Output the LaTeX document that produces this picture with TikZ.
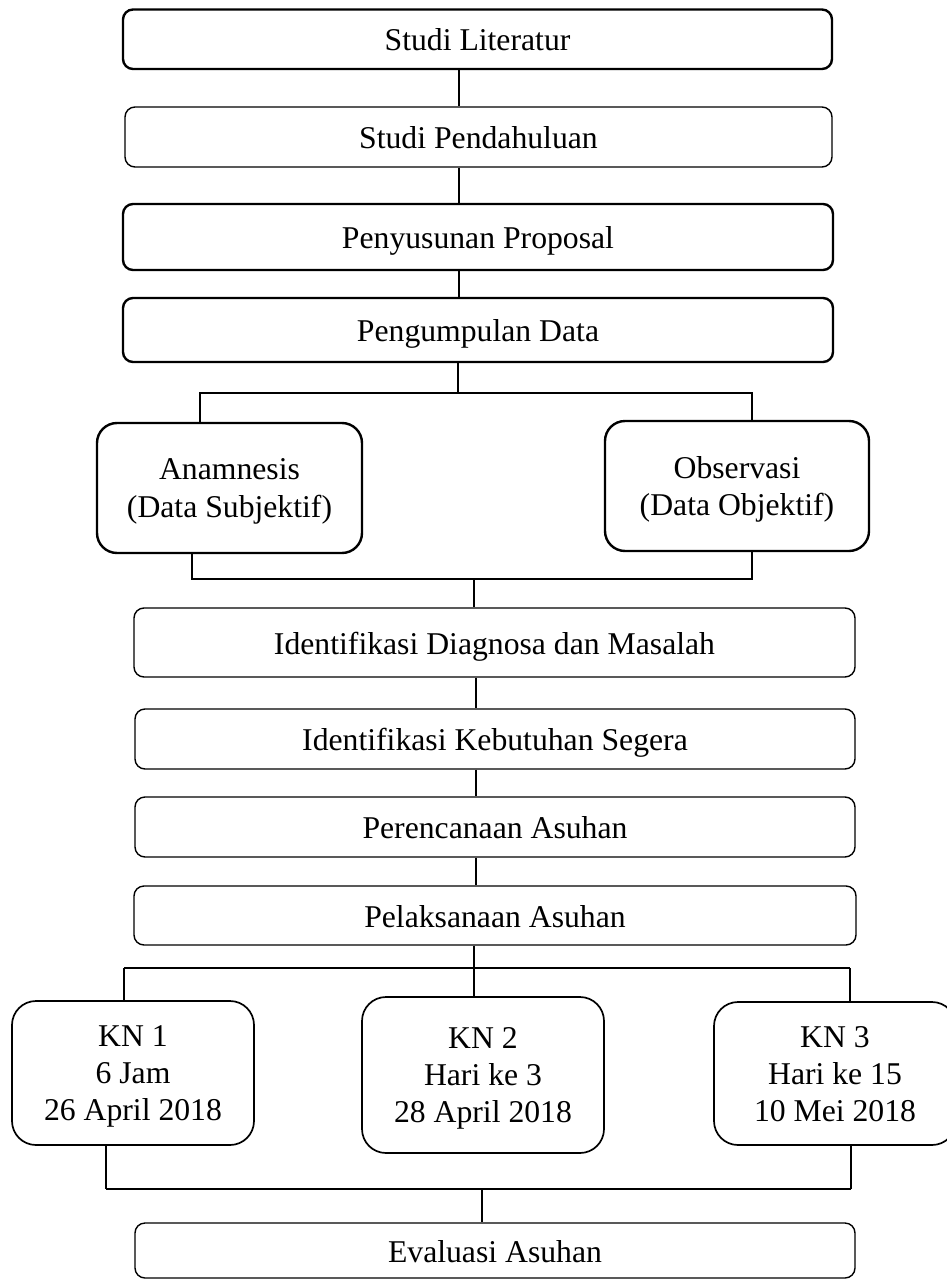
\documentclass[tikz,border=0pt]{standalone}
\usepackage{fontspec}
\setmainfont{Liberation Serif}
\begin{document}
\begin{tikzpicture}[x=1pt,y=-1pt,
  box/.style={draw, rounded corners=10pt, line width=1.4pt, inner sep=0pt,
    text height=23pt, text depth=0pt, font=\fontsize{31.7}{37}\selectfont},
  thickbox/.style={box, line width=2.4pt},
  bigbox/.style={draw, rounded corners=20pt, line width=2.4pt, inner sep=0pt,
    align=center, text depth=0pt, font=\fontsize{31.7}{37}\selectfont},
  knbox/.style={bigbox, line width=1.7pt, rounded corners=24pt},
  conn/.style={line width=1.2pt},
  heavyconn/.style={line width=1.9pt}]
\useasboundingbox[fill=white] (0,0) rectangle (947,1279);

\node[thickbox, minimum width=709pt, minimum height=59.5pt] (lit) at (477.5,39.25) {Studi Literatur};
\node[box, minimum width=707pt, minimum height=60pt] (pend) at (478.5,137) {Studi Pendahuluan};
\node[thickbox, minimum width=710pt, minimum height=66pt] (peny) at (478,237) {Penyusunan Proposal};
\node[thickbox, minimum width=710pt, minimum height=64pt] (peng) at (478,330) {Pengumpulan Data};

\node[bigbox, minimum width=265pt, minimum height=130pt] (anam) at (229.5,488) {Anamnesis\\(Data Subjektif)};
\node[bigbox, minimum width=264pt, minimum height=130pt] (obs) at (737,486) {Observasi\\(Data Objektif)};

\node[box, minimum width=721pt, minimum height=69pt] (diag) at (494.5,642.5) {Identifikasi Diagnosa dan Masalah};
\node[box, minimum width=720pt, minimum height=60pt] (keb) at (495,739) {Identifikasi Kebutuhan Segera};
\node[box, minimum width=720pt, minimum height=60pt] (ren) at (495,827) {Perencanaan Asuhan};
\node[box, minimum width=722pt, minimum height=59pt] (pel) at (495,915.5) {Pelaksanaan Asuhan};

\node[knbox, minimum width=242pt, minimum height=144pt] (kn1) at (133,1073) {KN 1\\6 Jam\\26 April 2018};
\node[knbox, minimum width=242pt, minimum height=156pt] (kn2) at (483,1075) {KN 2\\Hari ke 3\\28 April 2018};
\node[knbox, minimum width=242pt, minimum height=143pt] (kn3) at (835,1073.5) {KN 3\\Hari ke 15\\10 Mei 2018};

\node[box, minimum width=720pt, minimum height=55pt] (eval) at (495,1250.5) {Evaluasi Asuhan};

% connectors
\coordinate (a) at (459,0);
\coordinate (b) at (476,0);
\draw[conn] (lit.south -| a) -- (pend.north -| a);
\draw[conn] (pend.south -| a) -- (peny.north -| a);
\draw[conn] (peny.south -| a) -- (peng.north -| a);

\coordinate (j1) at (458,393);
\coordinate (j1l) at (200,393);
\coordinate (j1r) at (752,393);
\draw[conn] (peng.south -| j1) -- (j1);
\draw[conn] (anam.north -| j1l) -- (j1l) -- (j1r) -- (obs.north -| j1r);

\coordinate (j2) at (474,579);
\coordinate (j2l) at (192,579);
\coordinate (j2r) at (752,579);
\draw[conn] (anam.south -| j2l) -- (j2l) -- (j2r) -- (obs.south -| j2r);
\draw[conn] (j2) -- (diag.north -| j2);

\draw[conn] (diag.south -| b) -- (keb.north -| b);
\draw[conn] (keb.south -| b) -- (ren.north -| b);
\draw[conn] (ren.south -| b) -- (pel.north -| b);

\coordinate (j3) at (474,968);
\coordinate (j3l) at (124,968);
\coordinate (j3r) at (850,968);
\draw[conn] (pel.south -| j3) -- (kn2.north -| j3);
\draw[heavyconn] (j3l) -- (j3r);
\draw[conn] (j3l) -- (kn1.north -| j3l);
\draw[conn] (j3r) -- (kn3.north -| j3r);

\coordinate (j4) at (482,1189);
\coordinate (j4l) at (106,1189);
\coordinate (j4r) at (851,1189);
\draw[conn] (kn1.south -| j4l) -- (j4l);
\draw[conn] (kn3.south -| j4r) -- (j4r);
\draw[heavyconn] (j4l) -- (j4r);
\draw[conn] (j4) -- (eval.north -| j4);
\end{tikzpicture}
\end{document}
